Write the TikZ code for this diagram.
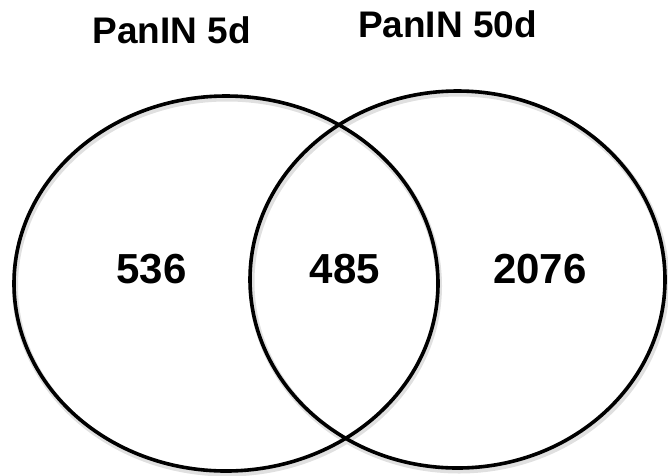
\documentclass[tikz,border=0pt]{standalone}
\usepackage{fontspec}
\setmainfont{Liberation Sans}
\begin{document}
\begin{tikzpicture}[x=1pt,y=-1pt,
  setring/.style={draw=black,line width=3.6pt},
  ringshadow/.style={draw=black!12,line width=6pt},
  titletext/.style={font=\fontsize{37}{40}\selectfont\bfseries,anchor=base,inner sep=0pt},
  counttext/.style={font=\fontsize{42}{46}\selectfont\bfseries,anchor=base,inner sep=0pt}]
\useasboundingbox (0,0) rectangle (668,475);
% soft shadows
\draw[ringshadow] (227,286) ellipse [x radius=212, y radius=187.5];
\draw[ringshadow] (459,282) ellipse [x radius=207.5, y radius=188.5];
% rings
\draw[setring] (226,283.5) ellipse [x radius=212, y radius=187.5];
\draw[setring] (457.5,279.5) ellipse [x radius=207.5, y radius=188.5];
% titles
\node[titletext] (t5) at (171.5,43) {PanIN 5d};
\node[titletext] (t50) at (447.5,37) {PanIN 50d};
% counts
\node[counttext] (a) at (151.5,283) {536};
\node[counttext] (b) at (345,283) {485};
\node[counttext] (c) at (540,283) {2076};
\end{tikzpicture}
\end{document}
